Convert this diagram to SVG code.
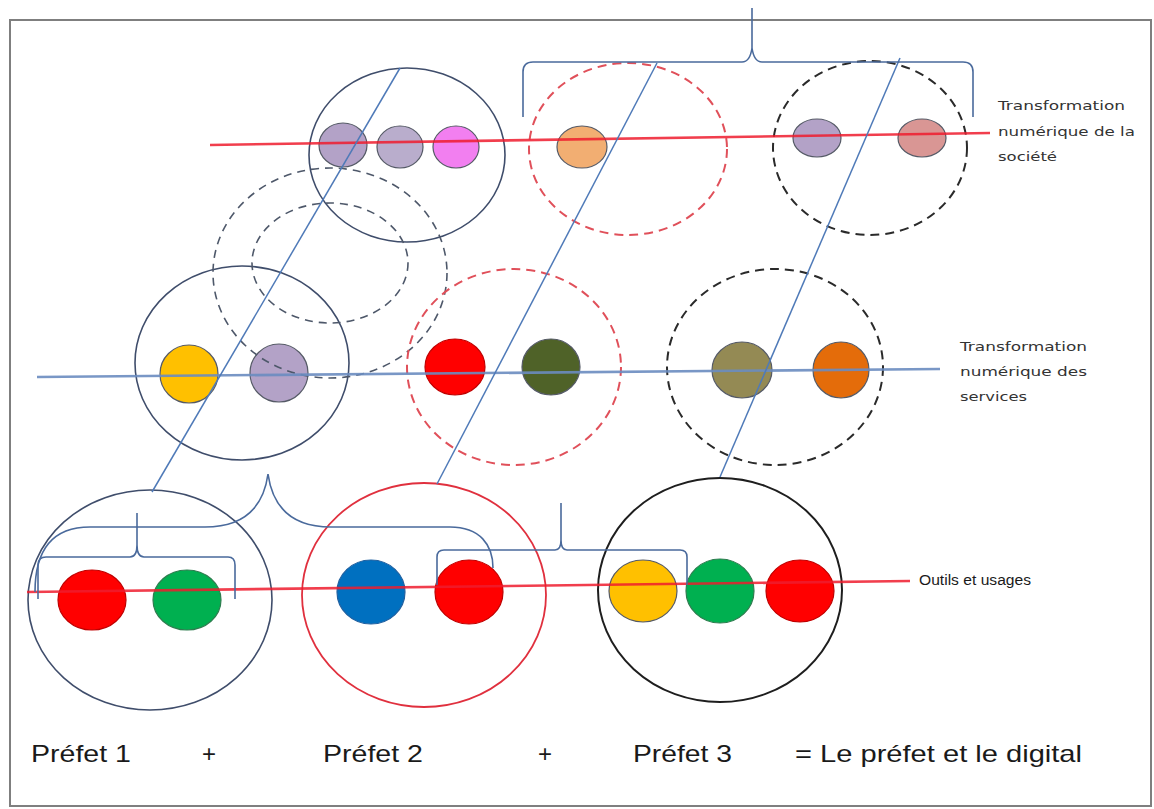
<svg xmlns="http://www.w3.org/2000/svg" width="1154" height="809" viewBox="0 0 1154 809">
<style>
.ring{fill:none;stroke:#3f4d6b;stroke-width:1.6}
.dashR{fill:none;stroke:#e0505a;stroke-width:2;stroke-dasharray:9 6}
.dashK{fill:none;stroke:#2a2a2a;stroke-width:2;stroke-dasharray:9 6}
.dashG{fill:none;stroke:#4e586a;stroke-width:1.6;stroke-dasharray:8 6}
.ball{stroke:#555a66;stroke-width:1.2}
.diag{fill:none;stroke:#4f7ab8;stroke-width:1.5}
.brace{fill:none;stroke:#4a6a9c;stroke-width:1.6}
.axR{fill:none;stroke:#ee1c2e;stroke-width:2.6;opacity:0.85}
.axB{fill:none;stroke:#6a8cc0;stroke-width:2.6;opacity:0.9}
.lbl{font-family:"DejaVu Sans",Verdana,sans-serif;font-size:13px;fill:#333}
.big{font-family:"Liberation Sans",Arial,sans-serif;font-size:24px;fill:#1a1a1a}
</style>
<rect x="0" y="0" width="1154" height="809" fill="#ffffff"/>
<rect id="frame" x="10" y="20" width="1141" height="786" fill="none" stroke="#7f7f7f" stroke-width="2"/>

<g id="society-p1">
<ellipse class="ring" cx="407" cy="155" rx="98" ry="87"/>
<ellipse class="ball" cx="343" cy="145" rx="24" ry="22" fill="#b3a2c7"/>
<ellipse class="ball" cx="400" cy="147" rx="23" ry="21" fill="#b9adcc"/>
<ellipse class="ball" cx="456" cy="147" rx="23" ry="21" fill="#f27ff0"/>
</g>
<g id="society-p2">
<ellipse class="dashR" cx="628" cy="149" rx="99" ry="86"/>
<ellipse class="ball" cx="582" cy="147" rx="25" ry="21" fill="#f2ae72"/>
</g>
<g id="society-p3">
<ellipse class="dashK" cx="870" cy="148" rx="97" ry="87"/>
<ellipse class="ball" cx="817" cy="138" rx="24" ry="19" fill="#b3a2c7"/>
<ellipse class="ball" cx="922" cy="138" rx="24" ry="19" fill="#d99694"/>
</g>

<g id="services-p1">
<ellipse class="ring" cx="242" cy="363" rx="107" ry="97"/>
<ellipse class="ball" cx="189" cy="374" rx="29" ry="29" fill="#ffc000"/>
<ellipse class="ball" cx="279" cy="373" rx="29" ry="29" fill="#b3a2c7"/>
</g>

<g id="ghost-circles">
<ellipse class="dashG" cx="330" cy="273" rx="117" ry="105"/>
<ellipse class="dashG" cx="330" cy="263" rx="78" ry="60"/>
</g>

<g id="services-p2">
<ellipse class="dashR" cx="514" cy="367" rx="107" ry="98"/>
<ellipse cx="455" cy="367" rx="30" ry="28" fill="#ff0000" stroke="#c00000" stroke-width="1.2"/>
<ellipse class="ball" cx="551" cy="367" rx="29" ry="28" fill="#4f6228"/>
</g>
<g id="services-p3">
<ellipse class="dashK" cx="775" cy="367" rx="108" ry="98"/>
<ellipse class="ball" cx="742" cy="370" rx="30" ry="28" fill="#948a54"/>
<ellipse class="ball" cx="841" cy="370" rx="28" ry="28" fill="#e46c0a"/>
</g>

<g id="tools-p1">
<ellipse class="ring" cx="150" cy="600" rx="122" ry="110"/>
<ellipse cx="92" cy="600" rx="34" ry="30" fill="#ff0000" stroke="#c00000" stroke-width="1.2"/>
<ellipse cx="187" cy="600" rx="34" ry="30" fill="#00b050" stroke="#2e7d4f" stroke-width="1.2"/>
</g>
<g id="tools-p2">
<ellipse cx="424" cy="595" rx="122" ry="112" fill="none" stroke="#e0303e" stroke-width="1.8"/>
<ellipse cx="371" cy="592" rx="34" ry="32" fill="#0070c0" stroke="#2060a0" stroke-width="1.2"/>
<ellipse cx="469" cy="592" rx="34" ry="32" fill="#ff0000" stroke="#c00000" stroke-width="1.2"/>
</g>
<g id="tools-p3">
<ellipse cx="720" cy="590" rx="122" ry="112" fill="none" stroke="#1e1e1e" stroke-width="2"/>
<ellipse class="ball" cx="643" cy="591" rx="34" ry="31" fill="#ffc000"/>
<ellipse cx="720" cy="591" rx="34" ry="32" fill="#00b050" stroke="#2e7d4f" stroke-width="1.2"/>
<ellipse cx="800" cy="591" rx="34" ry="31" fill="#ff0000" stroke="#c00000" stroke-width="1.2"/>
</g>

<g id="connectors">
<path class="axR" d="M210,145 L990,133"/>
<path class="axB" d="M37,377 L940,369"/>
<path class="axR" d="M27,592 L910,581"/>
<path class="diag" d="M400,68 L152,492"/>
<path class="diag" d="M657,63 L437,484"/>
<path class="diag" d="M900,58 L720,477"/>
<path class="brace" d="M523,117 L523,72 Q523,62 533,62 L742,62 Q750,62 752,48 L752,8 M752,48 Q754,62 762,62 L963,62 Q973,62 973,72 L973,117"/>
<path class="brace" d="M38,599 L38,565 Q38,557 46,557 L130,557 Q137,557 137,545 L137,513 M137,545 Q137,557 144,557 L228,557 Q235,557 235,565 L235,599"/>
<path class="brace" d="M35,592 C35,555 48,527 90,527 L205,527 C242,527 263,510 268,474 C273,510 294,527 331,527 L450,527 C480,527 493,545 493,568"/>
<path class="brace" d="M437,585 L437,557 Q437,550 444,550 L555,550 Q561,550 561,540 L561,503 M561,540 Q561,550 567,550 L680,550 Q687,550 687,557 L687,585"/>
</g>

<g id="labels">
<text class="lbl" x="998" y="110" textLength="127" lengthAdjust="spacingAndGlyphs">Transformation</text>
<text class="lbl" x="998" y="136" textLength="137" lengthAdjust="spacingAndGlyphs">numérique de la</text>
<text class="lbl" x="998" y="161" textLength="59" lengthAdjust="spacingAndGlyphs">société</text>
<text class="lbl" x="960" y="351" textLength="127" lengthAdjust="spacingAndGlyphs">Transformation</text>
<text class="lbl" x="960" y="376" textLength="127" lengthAdjust="spacingAndGlyphs">numérique des</text>
<text class="lbl" x="960" y="401" textLength="67" lengthAdjust="spacingAndGlyphs">services</text>
<text class="lbl" x="919" y="585" textLength="112" lengthAdjust="spacingAndGlyphs" style="font-family:'Liberation Sans',Arial,sans-serif;font-size:14px;fill:#1a1a1a">Outils et usages</text>
</g>

<g id="footer">
<text class="big" x="31" y="762" textLength="100" lengthAdjust="spacingAndGlyphs">Préfet 1</text>
<text class="big" x="209" y="762" text-anchor="middle">+</text>
<text class="big" x="323" y="762" textLength="100" lengthAdjust="spacingAndGlyphs">Préfet 2</text>
<text class="big" x="545" y="762" text-anchor="middle">+</text>
<text class="big" x="633" y="762" textLength="99" lengthAdjust="spacingAndGlyphs">Préfet 3</text>
<text class="big" x="795" y="762" textLength="287" lengthAdjust="spacingAndGlyphs">= Le préfet et le digital</text>
</g>
</svg>
